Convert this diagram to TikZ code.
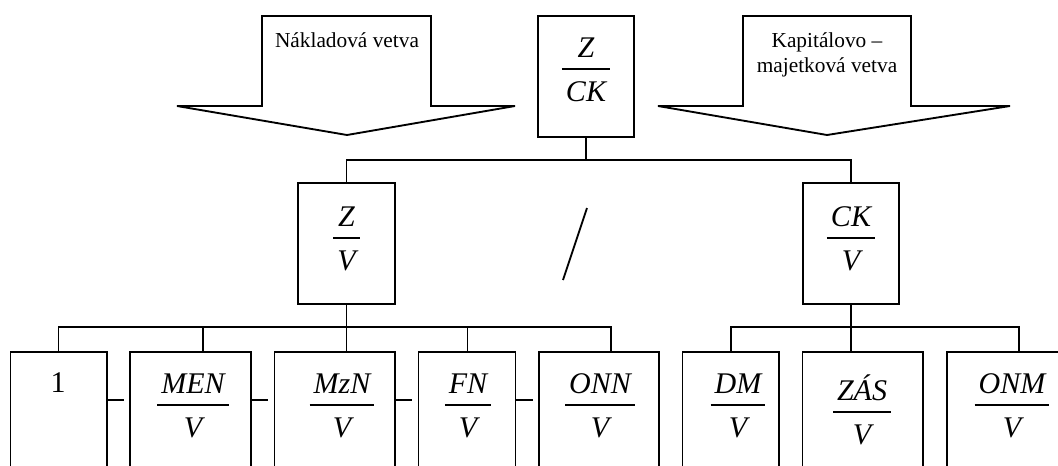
\documentclass[tikz,border=0pt]{standalone}
\usepackage{fontspec}
\setmainfont{Liberation Serif}
\usetikzlibrary{calc}

% stacked fraction: numerator, rule, denominator
\newcommand\vfrac[2]{{\renewcommand\arraystretch{0}\setlength\arrayrulewidth{0.8pt}%
  \begin{tabular}[t]{@{\hspace{3pt}}c@{\hspace{3pt}}}\rule[-8.6pt]{0pt}{0pt}#1\\\hline\rule{0pt}{24.2pt}#2\end{tabular}}}

% framed box given by its corners (pixel units)
\newcommand\pbox[5]{\node[frame, minimum width={(#4-#2)*0.75pt}, minimum height={(#5-#3)*0.75pt}] (#1) at ({(#2+#4)/2},{(#3+#5)/2}) {};}

\tikzset{
  x=0.75pt, y=-0.75pt,
  frame/.style={draw, rectangle, line width=1.4pt, inner sep=0pt, outer sep=0pt},
  wire/.style={line width=1.4pt, line cap=rect},
  outline/.style={line width=1.4pt, line join=miter},
  mathlbl/.style={font=\fontsize{22.5}{27}\selectfont\itshape, anchor=base, inner sep=0pt},
  numlbl/.style={font=\fontsize{22.5}{27}\selectfont, anchor=base, inner sep=0pt},
  txt/.style={font=\fontsize{16}{18.75}\selectfont, anchor=base, inner sep=0pt},
}

\begin{document}
\begin{tikzpicture}
\useasboundingbox (0,0) rectangle (1058,465);
\clip (0,0) rectangle (1058,465);

% block arrows naming the two branches
\draw[outline] (262,16) -- (431,16) -- (431,106) -- (515,106) -- (347,135) -- (177,106) -- (262,106) -- cycle;
\draw[outline] (743,16) -- (911,16) -- (911,106) -- (1010,106) -- (827,135) -- (658,106) -- (743,106) -- cycle;
\node[txt] (nakl) at (347,47) {Nákladová vetva};
\node[txt] (kap) at (827,47) {\begin{tabular}[t]{@{}c@{}}Kapitálovo –\\majetková vetva\end{tabular}};

% top ratio and its two factors
\pbox{zck}{538}{16}{634}{137}
\pbox{zv}{298}{183}{395}{304}
\pbox{ckv}{803}{183}{899}{304}
\node[mathlbl] (zck-f) at (586,57) {\vfrac{Z}{CK}};
\node[mathlbl] (zv-f) at (346.5,226) {\vfrac{Z}{V}};
\node[mathlbl] (ckv-f) at (851,226) {\vfrac{CK}{V}};

\draw[line width=1.4pt] (587,208) -- (563,280);

\coordinate (bus) at (0,160);
\draw[wire] (zck.south) -- (zck.south |- bus);
\draw[wire] (zv.north) -- (zv.north |- bus) -- (ckv.north |- bus) -- (ckv.north);

% lowest level
\pbox{b1}{10.5}{352}{107}{490}
\pbox{men}{130}{352}{251}{490}
\pbox{mzn}{274.5}{352}{395}{490}
\pbox{fn}{418.5}{352}{515.5}{490}
\pbox{onn}{539}{352}{659}{490}
\pbox{dm}{682.5}{352}{779}{490}
\pbox{zas}{802.5}{352}{923}{490}
\pbox{onm}{947}{352}{1070}{490}

\node[numlbl] (one) at (58,392) {1};
\node[mathlbl] (men-f) at (193,393) {\vfrac{MEN}{V}};
\node[mathlbl] (mzn-f) at (342,393) {\vfrac{MzN}{V}};
\node[mathlbl] (fn-f) at (468,393) {\vfrac{FN}{V}};
\node[mathlbl] (onn-f) at (600,393) {\vfrac{ONN}{V}};
\node[mathlbl] (dm-f) at (738,393) {\vfrac{DM}{V}};
\node[mathlbl] (zas-f) at (862,400) {\vfrac{ZÁS}{V}};
\node[mathlbl] (onm-f) at (1012,393) {\vfrac{ONM}{V}};

\coordinate (t1) at (58.5,327);
\coordinate (t2) at (203,327);
\coordinate (t3) at (346.5,327);
\coordinate (t4) at (467.5,327);
\coordinate (t5) at (611,327);
\coordinate (t6) at (731,327);
\coordinate (t7) at (851,327);
\coordinate (t8) at (1019,327);

\draw[wire] (zv.south) -- (t3);
\draw[wire] (ckv.south) -- (t7);
\draw[wire] (t1) -- (t5);
\draw[wire] (t6) -- (t8);
\foreach \t/\b in {t1/b1, t2/men, t3/mzn, t4/fn, t5/onn, t6/dm, t7/zas, t8/onm}
  \draw[wire] (\t) -- (\t |- \b.north);

% short links between neighbouring cost boxes
\coordinate (dy) at (0,400);
\foreach \b in {b1, men, mzn, fn}
  \draw[line width=1.4pt] (\b.east |- dy) -- ++(17,0);
\end{tikzpicture}
\end{document}
